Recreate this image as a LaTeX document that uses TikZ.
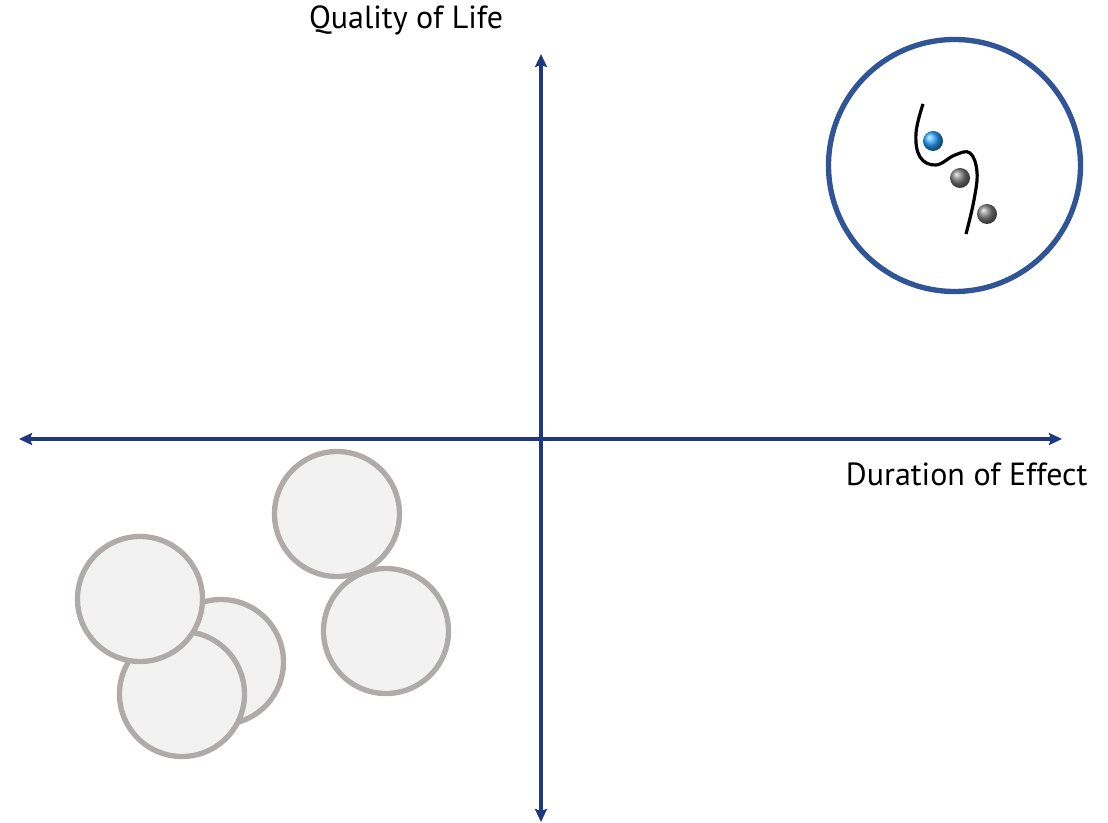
\documentclass[tikz,border=0pt]{standalone}
\usepackage{fontspec}
\setmainfont{PT Sans}
\usetikzlibrary{arrows.meta}
\definecolor{axisblue}{RGB}{30,56,130}
\definecolor{ringblue}{RGB}{47,85,151}
\definecolor{discgray}{RGB}{175,171,171}
\definecolor{discfill}{RGB}{242,242,242}
\definecolor{ballblue}{RGB}{40,165,255}
\begin{document}
\begin{tikzpicture}[x=0.75pt,y=-0.75pt,
        >={Stealth[length=9.75pt,width=9pt,inset=1.5pt]},
        axis/.style={draw=axisblue, line width=3pt, <->},
        disc/.style={circle, draw=discgray, fill=discfill,
                        line width=4pt, inner sep=0pt, minimum size=93.75pt},
        ring/.style={circle, draw=ringblue, line width=4pt,
                        inner sep=0pt, minimum size=189pt},
        ball/.style={circle, inner sep=0pt, minimum size=15pt},
        lbl/.style={font=\fontsize{24}{28}\selectfont, anchor=base}]
    \useasboundingbox (0,0) rectangle (1108,823);
    % axes
    \coordinate (o) at (541,439);
    \coordinate (west) at (19,439);
    \coordinate (east) at (1062,439);
    \coordinate (north) at (541,54);
    \coordinate (south) at (541,822);
    \draw[axis] (west) -- (east);
    \draw[axis] (south) -- (north);
    \node[lbl] (quality) at (406,28.3) {Quality of Life};
    \node[lbl] (duration) at (966.7,486) {Duration of Effect};
    % grey discs
    \node[disc] (d1) at (221,662) {};
    \node[disc] (d2) at (182,694) {};
    \node[disc] (d3) at (140,599) {};
    \node[disc] (d4) at (337,514) {};
    \node[disc] (d5) at (386,631) {};
    % target
    \node[ring] (target) at (954.5,165.5) {};
    \draw[line width=2.4pt]
            plot[smooth, tension=0.65] coordinates {(923,104) (916,133) (920,157)
            (936,165) (955,155) (970,153) (977,172) (974,200) (966,234)};
    \node[ball, ball color=ballblue] (b1) at (933,141) {};
    \node[ball, ball color=black!50] (b2) at (960,178) {};
    \node[ball, ball color=black!50] (b3) at (987,214) {};
\end{tikzpicture}
\end{document}
